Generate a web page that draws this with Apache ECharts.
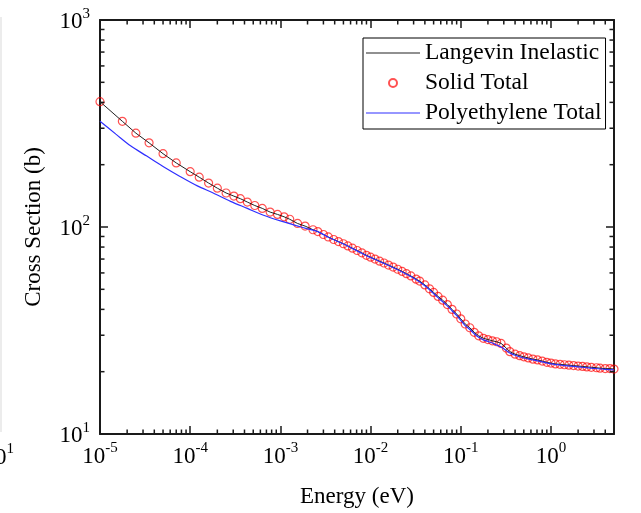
<!DOCTYPE html>
<html>
<head>
<meta charset="utf-8">
<script src="https://cdn.jsdelivr.net/npm/echarts@6/dist/echarts.min.js"></script>
<style>
html,body{margin:0;padding:0;background:#fff;}
#chart{width:641px;height:513px;}
</style>
</head>
<body>
<div id="chart"></div>
<script>
// ---- data ----
const energy = [1e-5, 1.77e-5, 2.5e-5, 3.5e-5, 5e-5, 7e-5, 1e-4, 1.26e-4, 1.6e-4, 2e-4, 2.5e-4, 3.05e-4, 3.6e-4, 4.3e-4, 5.2e-4, 6.3e-4, 7.7e-4, 9.3e-4, 1.1e-3, 1.27e-3, 1.55e-3, 1.88e-3, 2.3e-3, 2.6e-3, 3e-3, 3.4e-3, 3.9e-3, 4.4e-3, 5e-3, 5.6e-3, 6.3e-3, 7.1e-3, 8e-3, 9e-3, 1e-2, 1.12e-2, 1.26e-2, 1.41e-2, 1.58e-2, 1.78e-2, 2e-2, 2.24e-2, 2.5e-2, 2.8e-2, 3.2e-2, 3.5e-2, 4e-2, 4.5e-2, 5e-2, 5.6e-2, 6.3e-2, 7.1e-2, 8e-2, 9e-2, 0.1, 0.112, 0.126, 0.141, 0.158, 0.178, 0.2, 0.224, 0.25, 0.28, 0.32, 0.35, 0.4, 0.45, 0.5, 0.56, 0.63, 0.71, 0.8, 0.9, 1.0, 1.12, 1.26, 1.41, 1.58, 1.78, 2.0, 2.24, 2.5, 2.8, 3.2, 3.5, 4.0, 4.5, 5.0];
const langevin = [403, 324, 284, 255, 226, 204, 185, 174, 163, 154, 146, 141, 137, 132, 127, 123, 118, 115, 112, 109, 104, 101, 97, 95, 92, 89.5, 87, 85, 83, 81, 79, 77, 75, 73, 71.5, 70, 68.4, 67, 65.5, 64, 62.5, 61, 59.5, 58, 56, 54.8, 52.5, 50.3, 48.3, 46.2, 44.3, 42.2, 40, 38, 36, 34, 32.6, 31, 29.8, 29, 28.6, 28.2, 27.9, 27.4, 26, 25, 24.3, 23.9, 23.6, 23.3, 23, 22.8, 22.5, 22.2, 22, 21.8, 21.7, 21.6, 21.5, 21.4, 21.3, 21.2, 21.1, 21.0, 20.9, 20.8, 20.7, 20.7, 20.6];
const solidTotal = [403, 324, 284, 255, 226, 204, 185, 174, 163, 154, 146, 141, 137, 132, 127, 123, 118, 115, 112, 109, 104, 101, 97, 95, 92, 89.5, 87, 85, 83, 81, 79, 77, 75, 73, 71.5, 70, 68.4, 67, 65.5, 64, 62.5, 61, 59.5, 58, 56, 54.8, 52.5, 50.3, 48.3, 46.2, 44.3, 42.2, 40, 38, 36, 34, 32.6, 31, 29.8, 29, 28.6, 28.2, 27.9, 27.4, 26, 25, 24.3, 23.9, 23.6, 23.3, 23, 22.8, 22.5, 22.2, 22, 21.8, 21.7, 21.6, 21.5, 21.4, 21.3, 21.2, 21.1, 21.0, 20.9, 20.8, 20.7, 20.7, 20.6];
const polyEnergy = [1e-5, 1.5e-5, 2.2e-5, 3.3e-5, 5e-5, 7.8e-5, 1.2e-4, 1.8e-4, 2.8e-4, 4.3e-4, 6.5e-4, 1e-3, 1.5e-3, 2e-3, 2.6e-3, 3.4e-3, 5e-3, 7.1e-3, 1e-2, 1.41e-2, 2e-2, 2.8e-2, 4e-2, 5.6e-2, 7.1e-2, 8e-2, 9e-2, 0.1, 0.112, 0.126, 0.141, 0.158, 0.178, 0.2, 0.224, 0.25, 0.28, 0.32, 0.35, 0.4, 0.5, 0.63, 0.8, 1.0, 1.41, 2.0, 2.8, 4.0, 5.0];
const polyTotal = [324, 281, 246, 220, 196, 175, 158, 146, 133, 123, 114, 107, 101.5, 98, 95, 89.3, 82.7, 76.7, 71.2, 66.7, 62.2, 57.6, 52, 45.6, 41.6, 39.4, 37.4, 35.4, 33.4, 32, 30.5, 29.3, 28.5, 28, 27.5, 26.9, 26.3, 25.3, 24.6, 24, 23.3, 22.8, 22.3, 21.8, 21.4, 21.1, 20.8, 20.5, 20.4];
const seriesNames = ['Langevin Inelastic', 'Solid Total', 'Polyethylene Total'];
const xMinE = 1e-5, xMaxE = 5;
const yMinV = 10, yMaxV = 1000;

// minor tick positions of the log axes (2..9 per decade)
const xMinor = [];
for (let d = -5; d <= 0; d++) for (let m = 2; m <= 9; m++) { const v = m * Math.pow(10, d); if (v < xMaxE) xMinor.push(v); }
const yMinor = [];
for (let d = 1; d <= 2; d++) for (let m = 2; m <= 9; m++) yMinor.push(m * Math.pow(10, d));

const FONT = 'Liberation Serif';
const AX = '#1a1a1a';
const BLACK = '#222';
const BLUE = '#2f2fff';

function powLabel(v) {
  const e = Math.log10(v);
  const r = Math.round(e);
  if (Math.abs(e - r) > 1e-6) return '';
  return '{b|10}{s|' + r + '}';
}
const rich = {
  b: {fontSize: 23, fontFamily: FONT, color: '#000', lineHeight: 27, verticalAlign: 'bottom'},
  s: {fontSize: 15, fontFamily: FONT, color: '#000', lineHeight: 27, verticalAlign: 'top'}
};

const chart = echarts.init(document.getElementById('chart'), null, {renderer: 'canvas'});

function tickSeries(vals, isX) {
  return {
    type: 'custom', silent: true, clip: false, z: 5,
    xAxisIndex: 0, yAxisIndex: 0,
    data: vals.map(v => isX ? [v, yMinV] : [xMinE, v]),
    renderItem: function (params, api) {
      const st = {stroke: AX, lineWidth: 1.5};
      if (isX) {
        const v = api.value(0);
        const b = api.coord([v, yMinV]);
        const t = api.coord([v, yMaxV]);
        return {type: 'group', children: [
          {type: 'line', shape: {x1: b[0], y1: b[1], x2: b[0], y2: b[1] - 4.5}, style: st},
          {type: 'line', shape: {x1: t[0], y1: t[1], x2: t[0], y2: t[1] + 4.5}, style: st}
        ]};
      } else {
        const v = api.value(1);
        const l = api.coord([xMinE, v]);
        const r = api.coord([xMaxE, v]);
        return {type: 'group', children: [
          {type: 'line', shape: {x1: l[0], y1: l[1], x2: l[0] + 4.5, y2: l[1]}, style: st},
          {type: 'line', shape: {x1: r[0], y1: r[1], x2: r[0] - 4.5, y2: r[1]}, style: st}
        ]};
      }
    }
  };
}

const axisCommon = {
  type: 'log', logBase: 10,
  axisLine: {show: true, onZero: false, lineStyle: {color: AX, width: 2}},
  axisTick: {show: true, inside: true, length: 8, lineStyle: {color: AX, width: 1.5}},
  splitLine: {show: false},
  minorTick: {show: false}
};

const lineIcon = 'path://M0,0L54,0L54,1.2L0,1.2Z';

const option = {
  animation: false,
  backgroundColor: '#fff',
  grid: {left: 100, right: 27, top: 20, bottom: 78, containLabel: false},
  legend: {
    data: [
      {name: seriesNames[0], icon: lineIcon},
      {name: seriesNames[1]},
      {name: seriesNames[2], icon: lineIcon}
    ],
    orient: 'vertical',
    left: 363, top: 38,
    padding: [3, 4, 4, 3],
    itemGap: 6,
    itemWidth: 54, itemHeight: 8,
    borderColor: '#000', borderWidth: 1, borderRadius: 0,
    backgroundColor: '#fff',
    textStyle: {fontFamily: FONT, fontSize: 23.5, lineHeight: 24, color: '#000'}
  },
  xAxis: [
    Object.assign({}, axisCommon, {
      min: xMinE, max: xMaxE, position: 'bottom',
      name: 'Energy (eV)', nameLocation: 'middle', nameGap: 51,
      nameTextStyle: {fontFamily: FONT, fontSize: 23, color: '#000'},
      axisLabel: {show: true, margin: 7, formatter: powLabel, rich: rich, showMaxLabel: false}
    }),
    Object.assign({}, axisCommon, {
      min: xMinE, max: xMaxE, position: 'top',
      axisLabel: {show: false}
    })
  ],
  yAxis: [
    Object.assign({}, axisCommon, {
      min: yMinV, max: yMaxV, position: 'left',
      name: 'Cross Section (b)', nameLocation: 'middle', nameGap: 55, nameRotate: 90,
      nameTextStyle: {fontFamily: FONT, fontSize: 23, color: '#000'},
      axisLabel: {show: true, margin: 10, formatter: powLabel, rich: rich}
    }),
    Object.assign({}, axisCommon, {
      min: yMinV, max: yMaxV, position: 'right',
      axisLabel: {show: false}
    })
  ],
  graphic: [
    {type: 'line', shape: {x1: 1, y1: 17, x2: 1, y2: 432}, style: {stroke: '#d9d9d9', lineWidth: 1}, silent: true},
    {type: 'text', right: 627, top: 442, style: {text: '{b|10}{s|1}', rich: rich, align: 'right'}, silent: true}
  ],
  series: [
    {
      name: seriesNames[1], type: 'scatter', z: 2,
      data: energy.map((e, i) => [e, solidTotal[i]]),
      symbol: 'circle', symbolSize: 8,
      itemStyle: {color: 'rgba(255,255,255,0)', borderColor: 'rgba(255,0,0,0.85)', borderWidth: 1.2}
    },
    {
      name: seriesNames[0], type: 'line', z: 3,
      data: energy.map((e, i) => [e, langevin[i]]),
      symbol: 'none', smooth: false,
      lineStyle: {color: BLACK, width: 1},
      itemStyle: {color: BLACK}
    },
    {
      name: seriesNames[2], type: 'line', z: 4,
      data: polyEnergy.map((e, i) => [e, polyTotal[i]]),
      symbol: 'none', smooth: 0.3,
      lineStyle: {color: BLUE, width: 1.2},
      itemStyle: {color: BLUE}
    },
    tickSeries(xMinor, true),
    tickSeries(yMinor, false)
  ]
};
chart.setOption(option);
</script>
</body>
</html>
